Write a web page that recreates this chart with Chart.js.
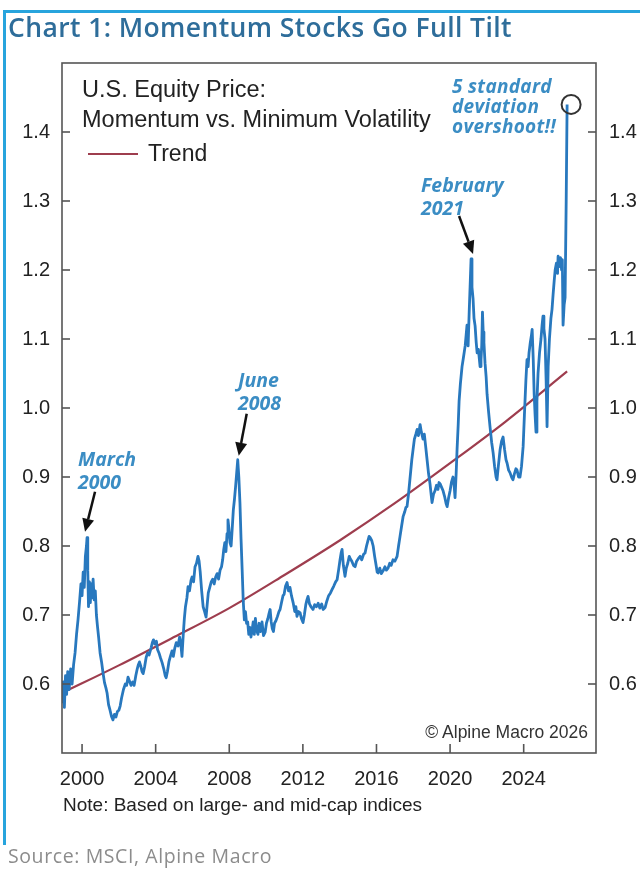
<!DOCTYPE html>
<html>
<head>
<meta charset="utf-8">
<script src="https://cdn.jsdelivr.net/npm/chart.js@4"></script>
<style>
  html, body { margin: 0; padding: 0; background: #fff; }
  #page { position: relative; width: 640px; height: 872px; overflow: hidden; background: #fff; }
  #frame { position: absolute; left: 3px; top: 10px; width: 640px; height: 832px;
           border-top: 3px solid #27a4dd; border-left: 3px solid #27a4dd; }
  #chart { position: absolute; left: 0; top: 0; }
  .txt { position: absolute; white-space: nowrap; }
  #title { left: 8px; top: 12px; font: 600 26.5px/30px "Open Sans", sans-serif; letter-spacing: 0.4px; color: #2e6d9a; }
  #source { left: 8px; top: 845px; font: 400 19.5px/22px "Open Sans", sans-serif; letter-spacing: 0.6px; color: #8c8c8c; }
  #panel { left: 82px; top: 74px; font: 23.5px/30px "Liberation Sans", Arial, sans-serif; color: #222; }
  #legend { left: 88px; top: 138px; font: 23px/30px "Liberation Sans", Arial, sans-serif; color: #222; }
  #legend span { display: inline-block; width: 50px; height: 2px; background: #9e3d4e; vertical-align: middle; margin-right: 10px; position: relative; top: -1px; }
  #note { left: 63px; top: 795px; font: 19px/20px "Liberation Sans", Arial, sans-serif; color: #222; }
  #copy { left: 402px; top: 722px; width: 186px; text-align: right; font: 17.5px/20px "Liberation Sans", Arial, sans-serif; color: #333; }
  .ann { font: italic 700 19.5px/23px "Open Sans", sans-serif; color: #3b8dc4; }
  #ann5 { font-size: 19px; line-height: 20px; letter-spacing: 0.3px; }
</style>
</head>
<body>
<div id="page">
  <div id="frame"></div>
  <canvas id="chart" width="640" height="872"></canvas>
  <div class="txt" id="title">Chart 1: Momentum Stocks Go Full Tilt</div>
  <div class="txt" id="panel">U.S. Equity Price:<br>Momentum vs. Minimum Volatility</div>
  <div class="txt" id="legend"><span></span>Trend</div>
  <div class="txt ann" style="left:78px;top:447px">March<br>2000</div>
  <div class="txt ann" style="left:238px;top:368px">June<br>2008</div>
  <div class="txt ann" style="left:421px;top:173px">February<br>2021</div>
  <div class="txt ann" id="ann5" style="left:452px;top:76px">5 standard<br>deviation<br>overshoot!!</div>
  <div class="txt" id="copy">© Alpine Macro 2026</div>
  <div class="txt" id="note">Note: Based on large- and mid-cap indices</div>
  <div class="txt" id="source">Source: MSCI, Alpine Macro</div>
</div>
<script>
// momentum vs min-vol relative price
const years = [
  1998.92, 1998.98, 1999.04, 1999.10, 1999.16, 1999.22, 1999.30, 1999.38, 1999.46, 1999.54,
  1999.62, 1999.70, 1999.78, 1999.86, 1999.94, 2000.00, 2000.06, 2000.12, 2000.18, 2000.24,
  2000.27, 2000.31, 2000.35, 2000.40, 2000.45, 2000.50, 2000.55, 2000.60, 2000.66, 2000.72,
  2000.78, 2000.84, 2000.90, 2000.98, 2001.06, 2001.14, 2001.22, 2001.30, 2001.36, 2001.44,
  2001.52, 2001.60, 2001.68, 2001.76, 2001.84, 2001.92, 2002.00, 2002.07, 2002.15, 2002.25,
  2002.35, 2002.42, 2002.50, 2002.58, 2002.66, 2002.75, 2002.83, 2002.92, 2003.00, 2003.06,
  2003.12, 2003.20, 2003.26, 2003.32, 2003.40, 2003.48, 2003.56, 2003.64, 2003.75, 2003.82,
  2003.88, 2003.96, 2004.04, 2004.10, 2004.18, 2004.26, 2004.35, 2004.44, 2004.52, 2004.57,
  2004.64, 2004.72, 2004.80, 2004.89, 2004.96, 2005.04, 2005.12, 2005.22, 2005.30, 2005.36,
  2005.43, 2005.50, 2005.56, 2005.62, 2005.70, 2005.76, 2005.84, 2005.92, 2005.98, 2006.06,
  2006.14, 2006.22, 2006.30, 2006.36, 2006.42, 2006.50, 2006.58, 2006.66, 2006.74, 2006.80,
  2006.86, 2006.94, 2007.02, 2007.10, 2007.18, 2007.26, 2007.34, 2007.42, 2007.50, 2007.58,
  2007.64, 2007.70, 2007.76, 2007.82, 2007.88, 2007.93, 2007.98, 2008.04, 2008.10, 2008.16,
  2008.22, 2008.28, 2008.34, 2008.40, 2008.46, 2008.52, 2008.58, 2008.64, 2008.70, 2008.76,
  2008.82, 2008.88, 2008.94, 2009.00, 2009.06, 2009.12, 2009.18, 2009.24, 2009.30, 2009.36,
  2009.42, 2009.48, 2009.56, 2009.62, 2009.70, 2009.78, 2009.86, 2009.95, 2010.02, 2010.10,
  2010.16, 2010.22, 2010.28, 2010.34, 2010.40, 2010.46, 2010.54, 2010.62, 2010.70, 2010.76,
  2010.84, 2010.92, 2010.98, 2011.06, 2011.14, 2011.22, 2011.30, 2011.38, 2011.47, 2011.56,
  2011.62, 2011.68, 2011.76, 2011.85, 2011.92, 2012.01, 2012.08, 2012.16, 2012.22, 2012.28,
  2012.36, 2012.44, 2012.55, 2012.64, 2012.74, 2012.83, 2012.92, 2013.02, 2013.10, 2013.21,
  2013.30, 2013.40, 2013.50, 2013.59, 2013.68, 2013.78, 2013.86, 2013.94, 2014.02, 2014.08,
  2014.13, 2014.20, 2014.29, 2014.36, 2014.44, 2014.52, 2014.57, 2014.66, 2014.75, 2014.84,
  2014.92, 2015.02, 2015.11, 2015.20, 2015.30, 2015.38, 2015.46, 2015.54, 2015.60, 2015.66,
  2015.74, 2015.82, 2015.90, 2015.98, 2016.04, 2016.09, 2016.18, 2016.26, 2016.36, 2016.46,
  2016.54, 2016.63, 2016.72, 2016.80, 2016.90, 2017.00, 2017.12, 2017.20, 2017.28, 2017.36,
  2017.45, 2017.54, 2017.60, 2017.66, 2017.74, 2017.83, 2017.92, 2017.99, 2018.06, 2018.14,
  2018.21, 2018.28, 2018.37, 2018.44, 2018.53, 2018.60, 2018.67, 2018.75, 2018.83, 2018.91,
  2018.97, 2019.02, 2019.10, 2019.18, 2019.26, 2019.34, 2019.40, 2019.46, 2019.54, 2019.62,
  2019.70, 2019.78, 2019.84, 2019.92, 2020.00, 2020.08, 2020.16, 2020.22, 2020.27, 2020.33,
  2020.38, 2020.44, 2020.49, 2020.56, 2020.65, 2020.72, 2020.82, 2020.87, 2020.92, 2020.98,
  2021.04, 2021.10, 2021.14, 2021.19, 2021.25, 2021.30, 2021.36, 2021.42, 2021.47, 2021.54,
  2021.63, 2021.68, 2021.72, 2021.76, 2021.80, 2021.84, 2021.90, 2021.96, 2022.01, 2022.09,
  2022.17, 2022.26, 2022.34, 2022.42, 2022.50, 2022.55, 2022.62, 2022.72, 2022.80, 2022.88,
  2022.96, 2023.04, 2023.10, 2023.18, 2023.26, 2023.34, 2023.42, 2023.50, 2023.58, 2023.64,
  2023.72, 2023.80, 2023.88, 2023.97, 2024.04, 2024.12, 2024.18, 2024.24, 2024.29, 2024.36,
  2024.42, 2024.46, 2024.52, 2024.57, 2024.62, 2024.67, 2024.72, 2024.78, 2024.86, 2024.94,
  2025.00, 2025.05, 2025.10, 2025.16, 2025.22, 2025.27, 2025.33, 2025.40, 2025.48, 2025.54,
  2025.60, 2025.66, 2025.71, 2025.78, 2025.84, 2025.87, 2025.94, 2026.00, 2026.06, 2026.10,
  2026.14, 2026.20, 2026.25, 2026.31, 2026.36
];
const momentum = [
  0.572, 0.603, 0.566, 0.612, 0.585, 0.618, 0.592, 0.622, 0.600, 0.628,
  0.645, 0.672, 0.693, 0.718, 0.745, 0.728, 0.762, 0.740, 0.785, 0.800,
  0.812, 0.765, 0.712, 0.748, 0.718, 0.745, 0.725, 0.752, 0.722, 0.735,
  0.700, 0.683, 0.668, 0.645, 0.632, 0.616, 0.602, 0.594, 0.587, 0.570,
  0.562, 0.553, 0.548, 0.556, 0.552, 0.560, 0.562, 0.568, 0.580, 0.592,
  0.600, 0.598, 0.610, 0.604, 0.598, 0.603, 0.598, 0.612, 0.622, 0.628,
  0.632, 0.625, 0.618, 0.615, 0.625, 0.638, 0.645, 0.642, 0.652, 0.660,
  0.664, 0.658, 0.662, 0.650, 0.645, 0.638, 0.631, 0.622, 0.612, 0.609,
  0.618, 0.632, 0.640, 0.648, 0.640, 0.652, 0.660, 0.655, 0.668, 0.660,
  0.640, 0.672, 0.695, 0.712, 0.725, 0.741, 0.735, 0.750, 0.755, 0.748,
  0.770, 0.775, 0.785, 0.778, 0.763, 0.735, 0.712, 0.705, 0.697, 0.715,
  0.732, 0.740, 0.748, 0.752, 0.745, 0.755, 0.760, 0.752, 0.765, 0.770,
  0.780, 0.795, 0.805, 0.792, 0.818, 0.838, 0.825, 0.805, 0.800, 0.825,
  0.852, 0.867, 0.885, 0.905, 0.925, 0.900, 0.863, 0.810, 0.766, 0.720,
  0.693, 0.705, 0.688, 0.690, 0.672, 0.682, 0.668, 0.678, 0.690, 0.672,
  0.695, 0.678, 0.672, 0.688, 0.676, 0.690, 0.670, 0.675, 0.688, 0.695,
  0.702, 0.708, 0.690, 0.680, 0.676, 0.688, 0.692, 0.698, 0.705, 0.708,
  0.718, 0.728, 0.730, 0.742, 0.747, 0.735, 0.740, 0.728, 0.718, 0.705,
  0.712, 0.698, 0.705, 0.703, 0.695, 0.689, 0.700, 0.715, 0.722, 0.727,
  0.716, 0.712, 0.708, 0.715, 0.712, 0.717, 0.710, 0.716, 0.708, 0.711,
  0.720, 0.728, 0.732, 0.737, 0.742, 0.748, 0.751, 0.765, 0.780, 0.790,
  0.795, 0.772, 0.756, 0.768, 0.775, 0.785, 0.782, 0.778, 0.772, 0.770,
  0.778, 0.782, 0.785, 0.780, 0.788, 0.790, 0.800, 0.808, 0.814, 0.812,
  0.808, 0.800, 0.785, 0.772, 0.762, 0.761, 0.768, 0.760, 0.764, 0.770,
  0.765, 0.768, 0.775, 0.772, 0.780, 0.778, 0.785, 0.800, 0.814, 0.828,
  0.843, 0.850, 0.856, 0.857, 0.875, 0.900, 0.925, 0.940, 0.955, 0.962,
  0.969, 0.960, 0.976, 0.965, 0.955, 0.962, 0.945, 0.925, 0.905, 0.890,
  0.875, 0.863, 0.875, 0.880, 0.888, 0.882, 0.892, 0.890, 0.885, 0.880,
  0.872, 0.862, 0.857, 0.870, 0.880, 0.893, 0.900, 0.888, 0.870, 0.905,
  0.940, 0.975, 1.010, 1.035, 1.060, 1.072, 1.090, 1.105, 1.120, 1.090,
  1.140, 1.185, 1.216, 1.175, 1.158, 1.130, 1.119, 1.095, 1.080, 1.085,
  1.060, 1.070, 1.090, 1.139, 1.110, 1.095, 1.065, 1.045, 1.020, 0.995,
  0.973, 0.950, 0.935, 0.915, 0.900, 0.896, 0.915, 0.940, 0.952, 0.958,
  0.940, 0.925, 0.920, 0.910, 0.906, 0.900, 0.896, 0.905, 0.912, 0.910,
  0.900, 0.900, 0.915, 0.944, 0.990, 1.040, 1.070, 1.060, 1.080, 1.095,
  1.105, 1.114, 1.070, 1.020, 0.990, 0.965, 1.010, 1.050, 1.080, 1.100,
  1.120, 1.133, 1.115, 1.100, 1.040, 0.973, 1.060, 1.100, 1.130, 1.143,
  1.165, 1.185, 1.200, 1.210, 1.195, 1.220, 1.205, 1.218, 1.200, 1.215,
  1.120, 1.150, 1.160, 1.300, 1.440
];

// trend curve, read at a few points
const trendYears = [1998.91, 2002, 2005, 2008, 2011, 2014, 2017, 2020, 2023, 2026.36];
const trend = [0.587, 0.627, 0.668, 0.710, 0.758, 0.808, 0.862, 0.920, 0.980, 1.053];

const xTicks = [2000, 2004, 2008, 2012, 2016, 2020, 2024];
const yTicks = [0.6, 0.7, 0.8, 0.9, 1.0, 1.1, 1.2, 1.3, 1.4];

// arrows point at these peaks (year, value)
const peaks = [[2000.27, 0.812], [2008.46, 0.925], [2021.14, 1.216]];
const spikeTop = [2026.36, 1.440];

const BLUE = '#2878be';
const RED = '#9e3d4e';
const AXIS = '#555';

function line(ctx, x1, y1, x2, y2){
    ctx.beginPath();
    ctx.moveTo(x1, y1);
    ctx.lineTo(x2, y2);
    ctx.stroke();
}

function arrow(ctx, x1, y1, x2, y2){
    const ang = Math.atan2(y2 - y1, x2 - x1);
    const head = 13, half = 6;
    const bx = x2 - head * Math.cos(ang), by = y2 - head * Math.sin(ang);
    ctx.lineWidth = 2.5;
    line(ctx, x1, y1, bx, by);
    ctx.beginPath();
    ctx.moveTo(x2, y2);
    ctx.lineTo(bx + half * Math.sin(ang), by - half * Math.cos(ang));
    ctx.lineTo(bx - half * Math.sin(ang), by + half * Math.cos(ang));
    ctx.closePath();
    ctx.fill();
}

// frame, inward ticks, arrows and the circle
const decor = {
    id: 'decor',
    afterDraw(chart){
        const {ctx, chartArea: a, scales} = chart;
        ctx.save();
        ctx.strokeStyle = AXIS;
        ctx.lineWidth = 1.6;
        ctx.strokeRect(a.left, a.top, a.right - a.left, a.bottom - a.top);
        yTicks.forEach(v => {
            const y = scales.y.getPixelForValue(v);
            line(ctx, a.left, y, a.left + 8, y);
            line(ctx, a.right - 8, y, a.right, y);
        });
        xTicks.forEach(v => {
            const x = scales.x.getPixelForValue(v);
            line(ctx, x, a.bottom - 9, x, a.bottom);
        });

        // tail offsets relative to the arrow tip
        const tails = [[10, -40], [8, -42], [-14, -38]];
        const tipOff = [[-2, -6], [1, -4], [2, -5]];
        ctx.strokeStyle = '#111';
        ctx.fillStyle = '#111';
        peaks.forEach((p, i) => {
            const tx = scales.x.getPixelForValue(p[0]) + tipOff[i][0];
            const ty = scales.y.getPixelForValue(p[1]) + tipOff[i][1];
            arrow(ctx, tx + tails[i][0], ty + tails[i][1], tx, ty);
        });

        const cx = scales.x.getPixelForValue(spikeTop[0]) + 4;
        const cy = scales.y.getPixelForValue(spikeTop[1]);
        ctx.strokeStyle = '#333';
        ctx.lineWidth = 2;
        ctx.beginPath();
        ctx.arc(cx, cy, 9.5, 0, Math.PI * 2);
        ctx.stroke();
        ctx.restore();
    }
};

const tickFont = {family: '"Liberation Sans", Arial, sans-serif', size: 20};

new Chart(document.getElementById('chart'), {
    type: 'line',
    data: {
        datasets: [
            {
                label: 'Momentum vs. Minimum Volatility',
                data: years.map((x, i) => ({x: x, y: momentum[i]})),
                borderColor: BLUE,
                borderWidth: 2.8,
                pointRadius: 0,
                tension: 0,
                borderJoinStyle: 'round'
            },
            {
                label: 'Trend',
                data: trendYears.map((x, i) => ({x: x, y: trend[i]})),
                borderColor: RED,
                borderWidth: 2.2,
                pointRadius: 0,
                cubicInterpolationMode: 'monotone'
            }
        ]
    },
    options: {
        responsive: false,
        devicePixelRatio: 1,
        animation: false,
        layout: {padding: {top: 63, left: 0, right: 0, bottom: 0}},
        plugins: {legend: {display: false}, tooltip: {enabled: false}},
        scales: {
            x: {
                type: 'linear',
                min: 1998.91,
                max: 2027.93,
                grid: {display: false, drawTicks: false},
                border: {display: false},
                afterBuildTicks: axis => { axis.ticks = xTicks.map(v => ({value: v})); },
                afterFit: axis => { axis.height = 119; },
                ticks: {
                    autoSkip: false, maxRotation: 0, padding: 14,
                    font: tickFont, color: '#222',
                    callback: v => String(v)
                }
            },
            y: {
                position: 'left',
                min: 0.5,
                max: 1.5,
                grid: {display: false, drawTicks: false},
                border: {display: false},
                afterBuildTicks: axis => { axis.ticks = yTicks.map(v => ({value: v})); },
                afterFit: axis => { axis.width = 62; },
                ticks: {padding: 12, font: tickFont, color: '#222', callback: v => v.toFixed(1)}
            },
            y2: {
                position: 'right',
                min: 0.5,
                max: 1.5,
                grid: {display: false, drawTicks: false},
                border: {display: false},
                afterBuildTicks: axis => { axis.ticks = yTicks.map(v => ({value: v})); },
                afterFit: axis => { axis.width = 44; },
                ticks: {padding: 13, font: tickFont, color: '#222', callback: v => v.toFixed(1)}
            }
        }
    },
    plugins: [decor]
});
</script>
</body>
</html>
